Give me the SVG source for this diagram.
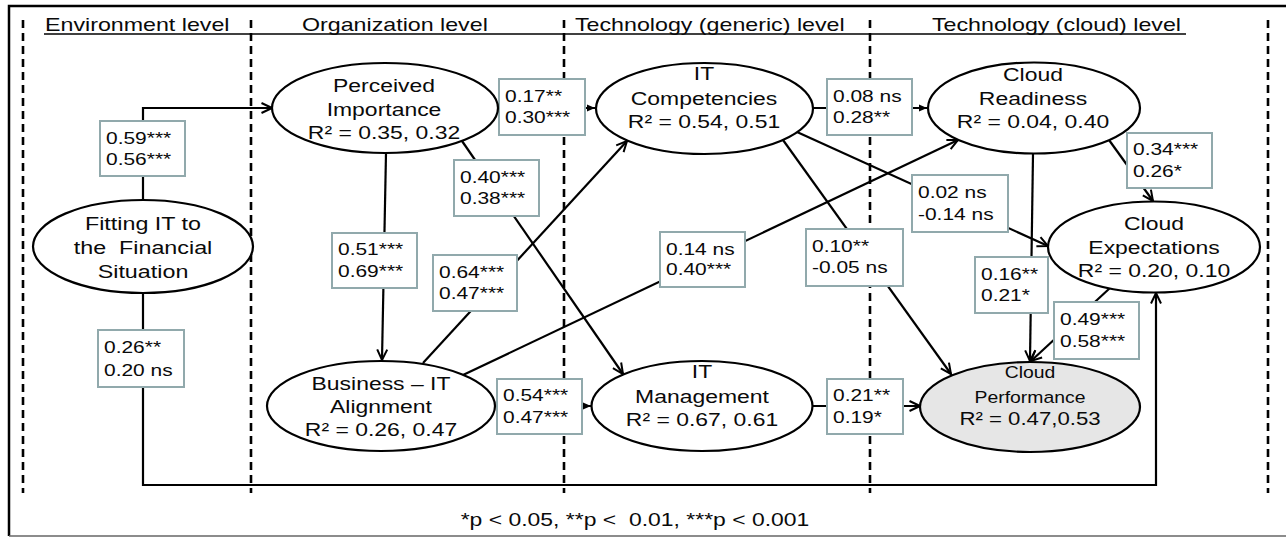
<svg xmlns="http://www.w3.org/2000/svg" width="1286" height="538" viewBox="0 0 1286 538">
<defs>
<style>
text{font-family:"Liberation Sans",Arial,sans-serif;fill:#0a0a0a;white-space:pre}
.h{font-size:18px}
.n{font-size:18.5px;text-anchor:middle}
.ns{font-size:17px;text-anchor:middle}
.l{font-size:16.5px}
.f{font-size:18.5px;text-anchor:middle}
.ell{fill:#fff;stroke:#000;stroke-width:2.2}
.box{fill:#fff;stroke:#91a9ac;stroke-width:2}
.c{fill:none;stroke:#000;stroke-width:2.2}
.dash{fill:none;stroke:#000;stroke-width:2.6;stroke-dasharray:8 5}
</style>
<marker id="ao" markerUnits="userSpaceOnUse" markerWidth="14" markerHeight="14" viewBox="0 0 14 14" refX="12.5" refY="7" orient="auto">
<path d="M2,2 L12.5,7 L2,12" fill="none" stroke="#000" stroke-width="2"/>
</marker>
<marker id="af" markerUnits="userSpaceOnUse" markerWidth="10" markerHeight="10" viewBox="0 0 10 10" refX="9" refY="5" orient="auto">
<path d="M1,1.5 L9,5 L1,8.5 z" fill="#000"/>
</marker>
</defs>

<g id="frame">
<path d="M1290,6 H9 V536" fill="none" stroke="#000" stroke-width="2.5"/>
<path d="M9,536 H1290" fill="none" stroke="#666" stroke-width="1.5"/>
<path d="M44,34 H1186" fill="none" stroke="#000" stroke-width="1.5"/>
<path class="dash" d="M23,20 V493 M251,20 V493 M564,20 V493 M870,20 V493 M1268,20 V493"/>
</g>

<g id="headers">
<text class="h" transform="translate(45,31) scale(1.29,1)">Environment level</text>
<text class="h" transform="translate(302,31) scale(1.29,1)">Organization level</text>
<text class="h" transform="translate(575,31) scale(1.29,1)">Technology (generic) level</text>
<text class="h" transform="translate(932,31) scale(1.29,1)">Technology (cloud) level</text>
</g>

<g id="connectors">
<path class="c" d="M143,200 V108 H272" marker-end="url(#ao)"/>
<path class="c" d="M143,293 V485 H1156 V293" marker-end="url(#ao)"/>
<path class="c" d="M386,153 L382,360" marker-end="url(#ao)"/>
<path class="c" d="M462,141 L623,374" marker-end="url(#ao)"/>
<path class="c" d="M423,363 L627,141" marker-end="url(#ao)"/>
<path class="c" d="M463,375 L958,140" marker-end="url(#ao)"/>
<path class="c" d="M497,108 H595" marker-end="url(#af)"/>
<path class="c" d="M813,108 H927" marker-end="url(#af)"/>
<path class="c" d="M797,132 L1048,246" marker-end="url(#ao)"/>
<path class="c" d="M783,140 L951,374" marker-end="url(#ao)"/>
<path class="c" d="M1033,154 L1030,361" marker-end="url(#ao)"/>
<path class="c" d="M1109,140 L1153,201" marker-end="url(#ao)"/>
<path class="c" d="M1110,288 L1031,361" marker-end="url(#ao)"/>
<path class="c" d="M495,406 H591" marker-end="url(#af)"/>
<path class="c" d="M813,406 H920" marker-end="url(#ao)"/>
</g>

<g id="labels">
<rect class="box" x="100" y="121" width="85" height="55"/>
<text class="l" transform="translate(106,143.5) scale(1.27,1)"><tspan x="0" y="0">0.59***</tspan><tspan x="0" y="22">0.56***</tspan></text>
<rect class="box" x="98" y="330" width="86" height="57"/>
<text class="l" transform="translate(104,353) scale(1.27,1)"><tspan x="0" y="0">0.26**</tspan><tspan x="0" y="23">0.20 ns</tspan></text>
<rect class="box" x="332" y="233" width="85" height="55"/>
<text class="l" transform="translate(338,255) scale(1.27,1)"><tspan x="0" y="0">0.51***</tspan><tspan x="0" y="22">0.69***</tspan></text>
<rect class="box" x="454" y="160" width="85" height="56"/>
<text class="l" transform="translate(460,182.5) scale(1.27,1)"><tspan x="0" y="0">0.40***</tspan><tspan x="0" y="22">0.38***</tspan></text>
<rect class="box" x="433" y="255" width="84" height="56"/>
<text class="l" transform="translate(439,277.5) scale(1.27,1)"><tspan x="0" y="0">0.64***</tspan><tspan x="0" y="22">0.47***</tspan></text>
<rect class="box" x="499" y="79" width="86" height="56"/>
<text class="l" transform="translate(505,101.5) scale(1.27,1)"><tspan x="0" y="0">0.17**</tspan><tspan x="0" y="22">0.30***</tspan></text>
<rect class="box" x="827" y="79" width="85" height="56"/>
<text class="l" transform="translate(833,101.5) scale(1.27,1)"><tspan x="0" y="0">0.08 ns</tspan><tspan x="0" y="22">0.28**</tspan></text>
<rect class="box" x="1127" y="133" width="85" height="55"/>
<text class="l" transform="translate(1133,155) scale(1.27,1)"><tspan x="0" y="0">0.34***</tspan><tspan x="0" y="22">0.26*</tspan></text>
<rect class="box" x="912" y="175" width="96" height="57"/>
<text class="l" transform="translate(918,198) scale(1.27,1)"><tspan x="0" y="0">0.02 ns</tspan><tspan x="0" y="22">-0.14 ns</tspan></text>
<rect class="box" x="660" y="232" width="85" height="55"/>
<text class="l" transform="translate(666,254.5) scale(1.27,1)"><tspan x="0" y="0">0.14 ns</tspan><tspan x="0" y="21">0.40***</tspan></text>
<rect class="box" x="806" y="229" width="97" height="57"/>
<text class="l" transform="translate(812,251.5) scale(1.27,1)"><tspan x="0" y="0">0.10**</tspan><tspan x="0" y="22">-0.05 ns</tspan></text>
<rect class="box" x="975" y="257" width="73" height="56"/>
<text class="l" transform="translate(981,279.5) scale(1.27,1)"><tspan x="0" y="0">0.16**</tspan><tspan x="0" y="22">0.21*</tspan></text>
<rect class="box" x="1054" y="302" width="85" height="57"/>
<text class="l" transform="translate(1060,324.5) scale(1.27,1)"><tspan x="0" y="0">0.49***</tspan><tspan x="0" y="23">0.58***</tspan></text>
<rect class="box" x="497" y="379" width="85" height="55"/>
<text class="l" transform="translate(503,401) scale(1.27,1)"><tspan x="0" y="0">0.54***</tspan><tspan x="0" y="22">0.47***</tspan></text>
<rect class="box" x="827" y="379" width="76" height="55"/>
<text class="l" transform="translate(833,401) scale(1.27,1)"><tspan x="0" y="0">0.21**</tspan><tspan x="0" y="22">0.19*</tspan></text>
</g>

<g id="node-fitting">
<ellipse class="ell" cx="143" cy="246.5" rx="110" ry="46.5"/>
<text class="n" transform="translate(143,230) scale(1.26,1)"><tspan x="0" y="0">Fitting IT to</tspan><tspan x="0" y="24">the  Financial</tspan><tspan x="0" y="48">Situation</tspan></text>
</g>
<g id="node-perceived">
<ellipse class="ell" cx="385" cy="108" rx="113" ry="45"/>
<text class="n" transform="translate(384,92) scale(1.24,1)"><tspan x="0" y="0">Perceived</tspan><tspan x="0" y="24">Importance</tspan><tspan x="0" y="47">R² = 0.35, 0.32</tspan></text>
</g>
<g id="node-business">
<ellipse class="ell" cx="381" cy="406" rx="114" ry="45"/>
<text class="n" transform="translate(381,390) scale(1.24,1)"><tspan x="0" y="0">Business – IT</tspan><tspan x="0" y="23">Alignment</tspan><tspan x="0" y="46">R² = 0.26, 0.47</tspan></text>
</g>
<g id="node-itcomp">
<ellipse class="ell" cx="704.5" cy="108.5" rx="108.5" ry="45.5"/>
<text class="n" transform="translate(704,80) scale(1.24,1)"><tspan x="0" y="0">IT</tspan><tspan x="0" y="25">Competencies</tspan><tspan x="0" y="48">R² = 0.54, 0.51</tspan></text>
</g>
<g id="node-itmgmt">
<ellipse class="ell" cx="702" cy="406" rx="110.5" ry="45"/>
<text class="n" transform="translate(702,378) scale(1.24,1)"><tspan x="0" y="0">IT</tspan><tspan x="0" y="25">Management</tspan><tspan x="0" y="48">R² = 0.67, 0.61</tspan></text>
</g>
<g id="node-readiness">
<ellipse class="ell" cx="1034" cy="108" rx="106" ry="45.5"/>
<text class="n" transform="translate(1033,81) scale(1.24,1)"><tspan x="0" y="0">Cloud</tspan><tspan x="0" y="24">Readiness</tspan><tspan x="0" y="47">R² = 0.04, 0.40</tspan></text>
</g>
<g id="node-expectations">
<ellipse class="ell" cx="1154" cy="247" rx="106" ry="45.5"/>
<text class="n" transform="translate(1154,230) scale(1.24,1)"><tspan x="0" y="0">Cloud</tspan><tspan x="0" y="24">Expectations</tspan><tspan x="0" y="47">R² = 0.20, 0.10</tspan></text>
</g>
<g id="node-performance">
<ellipse class="ell" cx="1030" cy="407" rx="110" ry="45" style="fill:#e6e6e6"/>
<text class="ns" transform="translate(1030,378) scale(1.14,1)"><tspan x="0" y="0">Cloud</tspan><tspan x="0" y="25">Performance</tspan></text>
<text class="n" transform="translate(1030,425) scale(1.2,1)">R² = 0.47,0.53</text>
</g>

<g id="footer">
<text class="f" transform="translate(635,526) scale(1.24,1)">*p &lt; 0.05, **p &lt;  0.01, ***p &lt; 0.001</text>
</g>
</svg>
